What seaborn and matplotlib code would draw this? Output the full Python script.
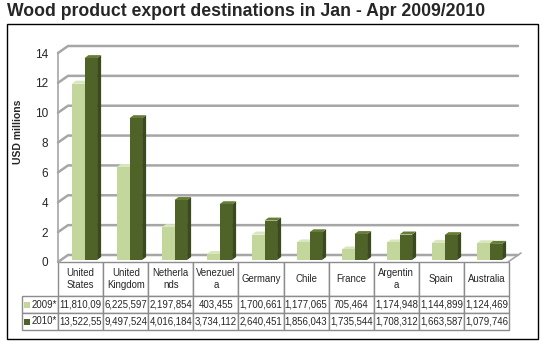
import pandas as pd
import matplotlib
matplotlib.use("Agg")
import matplotlib.pyplot as plt
import matplotlib.transforms as mtransforms
from matplotlib.patches import Polygon, Rectangle
from matplotlib.lines import Line2D
from matplotlib.table import Table
import seaborn as sns

# --- data (USD millions, Jan-Apr) ---------------------------------------
countries = ["United\nStates", "United\nKingdom", "Netherla\nnds", "Venezuel\na", "Germany",
             "Chile", "France", "Argentin\na", "Spain", "Australia"]
years = ["2009*", "2010*"]
usd_2009 = [11.810, 6.226, 2.198, 0.403, 1.701, 1.177, 0.705, 1.175, 1.145, 1.124]
usd_2010 = [13.523, 9.498, 4.016, 3.734, 2.640, 1.856, 1.736, 1.708, 1.664, 1.080]
txt_2009 = ["11,810,09", "6,225,597", "2,197,854", "403,455", "1,700,661", "1,177,065",
            "705,464", "1,174,948", "1,144,899", "1,124,469"]
txt_2010 = ["13,522,55", "9,497,524", "4,016,184", "3,734,112", "2,640,451", "1,856,043",
            "1,735,544", "1,708,312", "1,663,587", "1,079,746"]
yticks = [0, 2, 4, 6, 8, 10, 12, 14]

LIGHT, LIGHT_TOP, LIGHT_SIDE = "#c3d69b", "#d9e6c0", "#a6ba78"
DARK, DARK_TOP, DARK_SIDE = "#4f6228", "#667d35", "#3a4a1b"
GRID = "#a6a6a6"

sns.set_style("white")
plt.rcParams["font.family"] = ["Liberation Sans", "DejaVu Sans"]

W, H = 545, 352
fig = plt.figure(figsize=(W / 100, H / 100), dpi=100)


def box(l, t, r, b):
    return [l / W, 1 - b / H, (r - l) / W, (b - t) / H]


ax = fig.add_axes(box(58, 53, 508, 262))
ax.set_facecolor("none")

df = pd.DataFrame({"country": countries * 2,
                   "usd": usd_2009 + usd_2010,
                   "year": [years[0]] * len(countries) + [years[1]] * len(countries)})
sns.barplot(data=df, x="country", y="usd", hue="year", palette=[LIGHT, DARK], width=0.56,
            saturation=1, legend=False, ax=ax, zorder=3, linewidth=0)

ax.set_xlim(-0.5, len(countries) - 0.5)
ax.set_ylim(0, 14)
ax.set_autoscale_on(False)
ax.set_yticks(yticks)
ax.set_xticks([])
ax.set_xlabel("")
ax.set_ylabel("")
ax.tick_params(axis="y", length=0, pad=7, labelsize=8.5)
for s in ax.spines.values():
    s.set_visible(False)

ident = mtransforms.IdentityTransform()
DX, DY = 10, 7     # floor depth (pixels)
BX, BY = 4, 3      # bar depth (pixels)
SX, SY = 4, 2      # bars stand mid-way into the floor


def disp(x, y):
    return ax.transData.transform((x, y))


# back wall gridlines with perspective
x_lo, x_hi = ax.get_xlim()
for v in yticks:
    fx, fy = disp(x_lo, v)
    rx, _ = disp(x_hi, v)
    ax.add_line(Line2D([fx, fx + DX, rx + DX], [fy, fy + DY, fy + DY], transform=ident,
                       color=GRID, lw=1.8, clip_on=False, zorder=1))
# left edge and right floor edge
(lx, ly0), (_, ly1) = disp(x_lo, 0), disp(x_lo, 14)
ax.add_line(Line2D([lx, lx], [ly0, ly1], transform=ident, color=GRID, lw=1.2,
                   clip_on=False, zorder=1))
rx, ry = disp(x_hi, 0)
ax.add_line(Line2D([rx, rx + DX + 3], [ry, ry + DY + 2], transform=ident, color=GRID,
                   lw=1.2, clip_on=False, zorder=1))

# 3D faces for bars (bars nudged back into the floor)
shift = mtransforms.Affine2D().translate(SX, SY)
for p in list(ax.patches):
    x0 = p.get_x()
    x1 = x0 + p.get_width()
    X0, Y0 = disp(x0, 0) + (SX, SY)
    X1, Y1 = disp(x1, p.get_height()) + (SX, SY)
    p.set_transform(ax.transData + shift)
    p.set_clip_on(False)
    is_light = matplotlib.colors.to_hex(p.get_facecolor()) == LIGHT
    top_c, side_c = (LIGHT_TOP, LIGHT_SIDE) if is_light else (DARK_TOP, DARK_SIDE)
    side = [(X1, Y0), (X1 + BX, Y0 + BY), (X1 + BX, Y1 + BY), (X1, Y1)]
    top = [(X0, Y1), (X0 + BX, Y1 + BY), (X1 + BX, Y1 + BY), (X1, Y1)]
    ax.add_patch(Polygon(side, closed=True, transform=ident, fc=side_c, ec="none",
                         zorder=2, clip_on=False))
    ax.add_patch(Polygon(top, closed=True, transform=ident, fc=top_c, ec="none",
                         zorder=2, clip_on=False))

# data table under the plot
tbl = Table(ax, bbox=[(22 - 58) / 450, (262 - 330) / 209, (509 - 22) / 450, 68 / 209])
col_w = [36] + [45] * len(countries)
tbl.add_cell(0, 0, col_w[0], 34, text="", loc="center", edgecolor="none")
for j, lab in enumerate(countries, start=1):
    tbl.add_cell(0, j, col_w[j], 34, text=lab, loc="center", edgecolor="#8c8c8c")
for i, (yr, row) in enumerate(zip(years, [txt_2009, txt_2010]), start=1):
    tbl.add_cell(i, 0, col_w[0], 17, text=yr, loc="right", edgecolor="#8c8c8c")
    for j, val in enumerate(row, start=1):
        tbl.add_cell(i, j, col_w[j], 17, text=val, loc="center", edgecolor="#8c8c8c")
tbl.auto_set_font_size(False)
tbl.set_fontsize(6.9)
for cell in tbl.get_celld().values():
    cell.PAD = 0.03
ax.add_table(tbl)

fig.canvas.draw()
renderer = fig.canvas.get_renderer()
for i, c in zip([1, 2], [LIGHT, DARK]):
    bb = tbl[i, 0].get_window_extent(renderer)
    yc = (bb.y0 + bb.y1) / 2
    fig.add_artist(Rectangle((bb.x0 + 2, yc - 3), 6, 6, transform=ident, fc=c, ec="none"))

fig.text(18 / W, 1 - 132 / H, "USD millions", rotation=90, fontsize=7.5, fontweight="bold",
         ha="center", va="center")
fig.text(7 / W, 1 - 12 / H, "Wood product export destinations in Jan - Apr 2009/2010",
         fontsize=12.7, fontweight="bold", ha="left", va="center")
fig.add_artist(Rectangle((7 / W, 1 - 339 / H), 531 / W, 315 / H, transform=fig.transFigure,
                         fill=False, ec="black", lw=1))

fig.savefig("out.png", dpi=100)
